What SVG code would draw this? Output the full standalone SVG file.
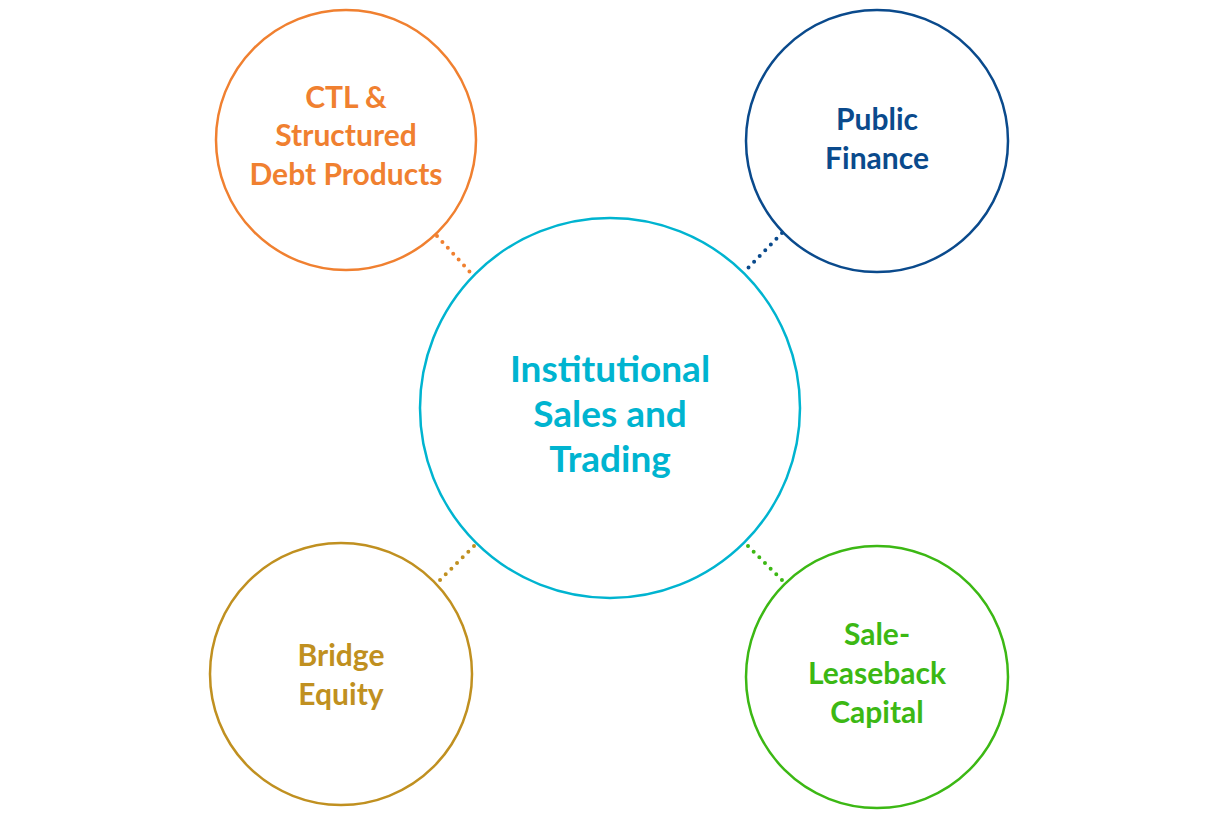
<svg xmlns="http://www.w3.org/2000/svg" width="1224" height="816" viewBox="0 0 1224 816">
<style>
.c{fill:none;stroke-width:2.5}
.t{font-family:Lato,"Liberation Sans",sans-serif;font-weight:bold;text-anchor:middle}
.d{stroke-width:4;stroke-linecap:round;stroke-dasharray:0 8}
</style>
<rect width="1224" height="816" fill="#fff"/>
<g id="connectors">
<line class="d" x1="437" y1="236" x2="470" y2="272" stroke="#f08030"/>
<line class="d" x1="782" y1="233" x2="746" y2="270" stroke="#0a4a8c"/>
<line class="d" x1="474" y1="546" x2="437" y2="583" stroke="#c09020"/>
<line class="d" x1="748" y1="546" x2="784" y2="582" stroke="#3cb814"/>
</g>
<g id="center">
<circle class="c" cx="610" cy="408" r="190" stroke="#00b4d0" stroke-width="3"/>
<text class="t" font-size="37" fill="#00b4d0"><tspan x="610" y="382">Institutional</tspan><tspan x="610" y="427">Sales and</tspan><tspan x="610" y="472">Trading</tspan></text>
</g>
<g id="ctl">
<circle class="c" cx="346" cy="140" r="130" stroke="#f08030"/>
<text class="t" font-size="30" fill="#f08030"><tspan x="346" y="108">CTL &amp;</tspan><tspan x="346" y="146">Structured</tspan><tspan x="346" y="185">Debt Products</tspan></text>
</g>
<g id="public">
<circle class="c" cx="877" cy="141" r="131" stroke="#0a4a8c"/>
<text class="t" font-size="30" fill="#0a4a8c"><tspan x="877" y="130">Public</tspan><tspan x="877" y="169">Finance</tspan></text>
</g>
<g id="bridge">
<circle class="c" cx="341" cy="674" r="131" stroke="#c09020"/>
<text class="t" font-size="30" fill="#c09020"><tspan x="341" y="666">Bridge</tspan><tspan x="341" y="705">Equity</tspan></text>
</g>
<g id="sale">
<circle class="c" cx="877" cy="677" r="131" stroke="#3cb814"/>
<text class="t" font-size="30" fill="#3cb814"><tspan x="877" y="645">Sale-</tspan><tspan x="877" y="684">Leaseback</tspan><tspan x="877" y="723">Capital</tspan></text>
</g>
</svg>
